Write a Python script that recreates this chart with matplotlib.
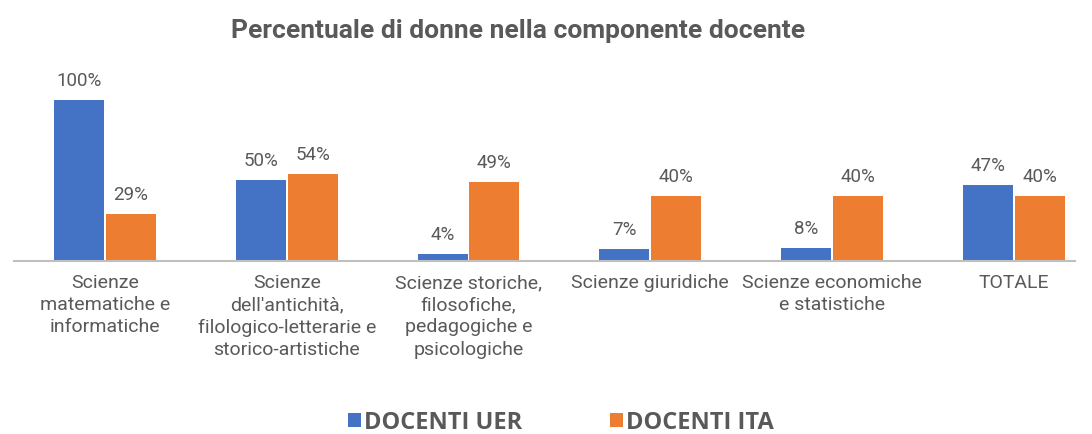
import matplotlib
matplotlib.use('Agg')
import matplotlib.pyplot as plt
import numpy as np

# --- data ---
categories = [
    'Scienze\nmatematiche e\ninformatiche',
    "Scienze\ndell'antichità,\nfilologico-letterarie e\nstorico-artistiche",
    'Scienze storiche,\nfilosofiche,\npedagogiche e\npsicologiche',
    'Scienze giuridiche',
    'Scienze economiche\ne statistiche',
    'TOTALE',
]
docenti_uer = [100, 50, 4, 7, 8, 47]
docenti_ita = [29, 54, 49, 40, 40, 40]
series_names = ['DOCENTI UER', 'DOCENTI ITA']

BLUE = '#4472C4'
ORANGE = '#ED7D31'
GRAY = '#595959'

plt.rcParams['font.family'] = ['Roboto', 'DejaVu Sans']

fig = plt.figure(figsize=(10.92, 4.35), dpi=100)
W, H = 1092, 435
# axes from x=14 to 1075 px, baseline at y=261.5, top at y=68.5
ax = fig.add_axes([14 / W, 1 - 261.5 / H, (1075 - 14) / W, (261.5 - 68.5) / H])

x = np.arange(len(categories))
w = 0.275
off = 0.142
b1 = ax.bar(x - off, docenti_uer, w, color=BLUE, label=series_names[0])
b2 = ax.bar(x + off, docenti_ita, w, color=ORANGE, label=series_names[1])

for bars, vals in ((b1, docenti_uer), (b2, docenti_ita)):
    for r, v in zip(bars, vals):
        ax.annotate(f'{v}%', (r.get_x() + r.get_width() / 2, v),
                    xytext=(0, 8), textcoords='offset points',
                    ha='center', va='bottom', fontsize=13.5, color=GRAY)

ax.set_xlim(-0.5, 5.336)
ax.set_ylim(0, 120)
ax.set_xticks(x)
ax.set_xticklabels(categories, fontsize=14, color=GRAY, linespacing=1.3, va='top')
ax.tick_params(axis='x', length=0, pad=9)
ax.set_yticks([])
for s in ['left', 'right', 'top']:
    ax.spines[s].set_visible(False)
ax.spines['bottom'].set_color('#BFBFBF')
ax.spines['bottom'].set_linewidth(1.5)

fig.text(518 / W, 1 - 31 / H, 'Percentuale di donne nella componente docente',
         ha='center', va='center', fontsize=19, fontweight='bold', color=GRAY)

leg = fig.legend(handles=[b1, b2], loc='center', bbox_to_anchor=(561 / W, 1 - 423 / H),
                 ncol=2, frameon=False, handlelength=0.55, handleheight=0.55,
                 handletextpad=0.15, columnspacing=3.7,
                 prop={'family': ['Open Sans', 'DejaVu Sans'], 'weight': 'bold', 'size': 17})
for t in leg.get_texts():
    t.set_color(GRAY)

fig.savefig('out.png', dpi=100)
